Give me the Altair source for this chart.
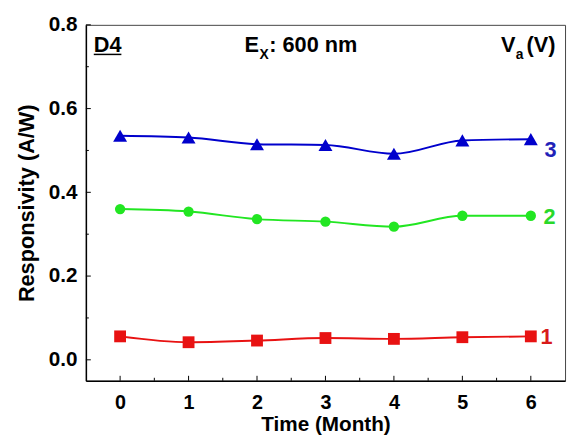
import altair as alt
import pandas as pd

months = [0, 1, 2, 3, 4, 5, 6]
r_1v = [0.056, 0.042, 0.046, 0.052, 0.050, 0.054, 0.056]
r_2v = [0.360, 0.354, 0.336, 0.330, 0.318, 0.344, 0.344]
r_3v = [0.535, 0.531, 0.515, 0.513, 0.492, 0.524, 0.527]
series_names = ["1", "2", "3"]
series_colors = ["#E81212", "#22E622", "#0000CC"]
label_colors = ["#D81A1A", "#2AD82A", "#2222B8"]
series_shapes = ["square", "circle", "triangle-up"]
series_sizes = [144, 110, 200]
x_ticks = [0, 1, 2, 3, 4, 5, 6]
x_minor = [0.5, 1.5, 2.5, 3.5, 4.5, 5.5]
y_ticks = [0.0, 0.2, 0.4, 0.6, 0.8]
y_minor = [0.1, 0.3, 0.5, 0.7]

FONT = "Liberation Sans"
W, H = 486, 361

rows = []
for name, vals in zip(series_names, [r_1v, r_2v, r_3v]):
    for m, v in zip(months, vals):
        rows.append({"month": m, "resp": v, "V": name})
df = pd.DataFrame(rows)

xs = alt.Scale(domain=[-0.5, 6.5], nice=False, zero=False)
ys = alt.Scale(domain=[-0.05, 0.8], nice=False, zero=False)
cs = alt.Scale(domain=series_names, range=series_colors)

base = alt.Chart(df)

lines = base.mark_line(interpolate="monotone", strokeWidth=2).encode(
    x=alt.X("month:Q", scale=xs,
            axis=alt.Axis(values=x_ticks, format="d", title="Time (Month)",
                          labelPadding=12, labelFontSize=20, titleFontSize=21,
                          titleY=44, titleBaseline="middle")),
    y=alt.Y("resp:Q", scale=ys,
            axis=alt.Axis(values=y_ticks, format=".1f", title="Responsivity (A/W)",
                          labelPadding=9, titleX=-60, titleY=H / 2,
                          titleAngle=270, titleBaseline="middle", titleAlign="center")),
    color=alt.Color("V:N", scale=cs, legend=None),
    detail="V:N",
)

point_layers = []
for name, shp, sz in zip(series_names, series_shapes, series_sizes):
    point_layers.append(
        base.transform_filter(alt.datum.V == name)
        .mark_point(filled=True, shape=shp, size=sz, opacity=1)
        .encode(x=alt.X("month:Q", scale=xs), y=alt.Y("resp:Q", scale=ys),
                color=alt.Color("V:N", scale=cs, legend=None))
    )

# series labels at the right end
label_layers = []
label_dx = [16, 19, 20]
label_dy = [1, 1, 11]
for i, (name, vals) in enumerate(zip(series_names, [r_1v, r_2v, r_3v])):
    ldf = pd.DataFrame({"month": [months[-1]], "resp": [vals[-1]], "lab": [name]})
    label_layers.append(
        alt.Chart(ldf).mark_text(font=FONT, fontSize=22, fontWeight="bold",
                                 color=label_colors[i], align="center",
                                 baseline="middle", dx=label_dx[i], dy=label_dy[i])
        .encode(x=alt.X("month:Q", scale=xs), y=alt.Y("resp:Q", scale=ys), text="lab:N")
    )

# inward ticks
xt = alt.Chart(pd.DataFrame({"t": x_ticks})).mark_rule(color="black", strokeWidth=1).encode(
    x=alt.X("t:Q", scale=xs), y=alt.value(H), y2=alt.value(H - 5))
xm = alt.Chart(pd.DataFrame({"t": x_minor})).mark_rule(color="black", strokeWidth=1).encode(
    x=alt.X("t:Q", scale=xs), y=alt.value(H), y2=alt.value(H - 3))
yt = alt.Chart(pd.DataFrame({"t": y_ticks})).mark_rule(color="black", strokeWidth=1).encode(
    y=alt.Y("t:Q", scale=ys), x=alt.value(0), x2=alt.value(5))
ym = alt.Chart(pd.DataFrame({"t": y_minor})).mark_rule(color="black", strokeWidth=1).encode(
    y=alt.Y("t:Q", scale=ys), x=alt.value(0), x2=alt.value(3))

def txt(s, x, y, size=22, align="left"):
    return alt.Chart(pd.DataFrame({"s": [s]})).mark_text(
        font=FONT, fontSize=size, fontWeight="bold", color="black",
        align=align, baseline="alphabetic").encode(
        x=alt.value(x), y=alt.value(y), text="s:N")

ann = [
    txt("D4", 8, 28),
    alt.Chart(pd.DataFrame({"a": [0]})).mark_rule(color="black", strokeWidth=1.5).encode(
        x=alt.value(8), x2=alt.value(36), y=alt.value(30)),
    txt("E", 161, 28),
    txt("X", 176, 35, size=14),
    txt(": 600 nm", 186, 28),
    txt("V", 421, 28),
    txt("a", 436, 35, size=14),
    txt("(V)", 447, 28),
]

chart = alt.layer(lines, *point_layers, *label_layers, xt, xm, yt, ym, *ann).properties(
    width=W, height=H,
    autosize=alt.AutoSizeParams(type="none"),
    padding={"left": 79, "top": 14, "right": 3, "bottom": 56},
).configure_view(
    stroke="#444444", strokeWidth=1
).configure_axis(
    grid=False, ticks=False, tickSize=0, domainColor="black", domainWidth=1.5,
    labelFont=FONT, labelFontSize=21, labelFontWeight="bold", labelColor="black",
    titleFont=FONT, titleFontSize=22, titleFontWeight="bold", titleColor="black",
)

chart.save("out.html", embed_options={"renderer": "svg", "actions": False})
